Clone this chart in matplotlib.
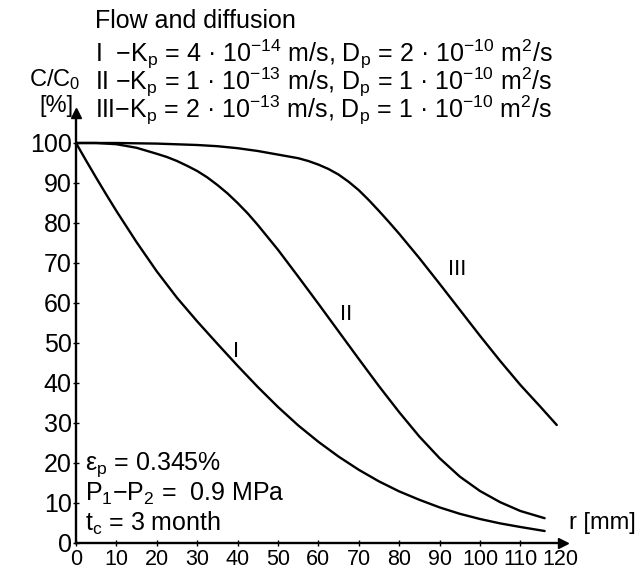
import matplotlib
matplotlib.use("Agg")
import matplotlib.pyplot as plt

plt.rcParams['font.family'] = ['Liberation Sans', 'DejaVu Sans']
plt.rcParams['mathtext.fontset'] = 'custom'
plt.rcParams['mathtext.rm'] = 'Liberation Sans'
plt.rcParams['mathtext.it'] = 'Liberation Sans'
plt.rcParams['mathtext.default'] = 'regular'

# Radial distance r [mm] and relative concentration C/C0 [%]
r_I = [0, 2.5, 5, 7.5, 10, 15, 20, 25, 30, 35, 40, 45, 50, 55, 60, 65, 70,
       75, 80, 85, 90, 95, 100, 105, 110, 116]
c_I = [100, 95.6, 91.3, 87.1, 83.0, 75.2, 67.9, 61.3, 55.4, 49.8, 44.3,
       39.0, 34.0, 29.4, 25.3, 21.6, 18.3, 15.4, 12.9, 10.8, 8.9, 7.3, 6.0,
       4.9, 4.0, 3.0]

r_II = [0, 5, 10, 15, 20, 22.5, 25, 27.5, 30, 32.5, 35, 37.5, 40, 42.5, 45,
        50, 55, 60, 65, 70, 75, 80, 85, 90, 95, 100, 105, 110, 116]
c_II = [100, 100, 99.7, 98.8, 97.3, 96.5, 95.5, 94.3, 93.0, 91.4, 89.5,
        87.4, 85.0, 82.4, 79.5, 73.3, 66.6, 59.8, 52.9, 46.0, 39.2, 32.7,
        26.6, 21.2, 16.6, 13.0, 10.2, 8.0, 6.2]

r_III = [0, 10, 20, 30, 35, 40, 45, 50, 55, 57.5, 60, 62.5, 65, 67.5, 70,
         72.5, 75, 77.5, 80, 85, 90, 95, 100, 105, 110, 115, 119]
c_III = [100, 100, 99.85, 99.5, 99.2, 98.7, 98.0, 97.1, 96.2, 95.5, 94.6,
         93.5, 92.1, 90.3, 88.2, 85.7, 83.0, 80.2, 77.3, 71.2, 64.8, 58.3,
         51.8, 45.5, 39.5, 34.0, 29.5]

x_ticks = [0, 10, 20, 30, 40, 50, 60, 70, 80, 90, 100, 110, 120]
y_ticks = [0, 10, 20, 30, 40, 50, 60, 70, 80, 90, 100]

legend_lines = [
    r"I  $-$K$_p$ = 4 · 10$^{-14}$ m/s, D$_p$ = 2 · 10$^{-10}$ m$^2$/s",
    r"II $-$K$_p$ = 1 · 10$^{-13}$ m/s, D$_p$ = 1 · 10$^{-10}$ m$^2$/s",
    r"III$-$K$_p$ = 2 · 10$^{-13}$ m/s, D$_p$ = 1 · 10$^{-10}$ m$^2$/s",
]
conditions = [
    r"$\epsilon_p$ = 0.345%",
    r"P$_1$$-$P$_2$ =  0.9 MPa",
    r"t$_c$ = 3 month",
]

W, H = 638, 570
fig = plt.figure(figsize=(W / 100, H / 100), dpi=100)

x0_px, y0_px = 76, 543
sx, sy = 4.04, 4.0
xmax, ymax = 120.6, 107.5
ax = fig.add_axes([x0_px / W, (H - y0_px) / H, xmax * sx / W, ymax * sy / H])
ax.set_xlim(0, xmax)
ax.set_ylim(0, ymax)

lw = 1.7
for r, c in [(r_I, c_I), (r_II, c_II), (r_III, c_III)]:
    ax.plot(r, c, color='black', lw=lw, solid_capstyle='round',
            solid_joinstyle='round')

for s in ['top', 'right']:
    ax.spines[s].set_visible(False)
for s in ['left', 'bottom']:
    ax.spines[s].set_linewidth(1.7)

# arrow heads at the ends of the axes
ax.plot(1, 0, '>', color='black', markersize=7, transform=ax.transAxes, clip_on=False)
ax.plot(0, 1, '^', color='black', markersize=7, transform=ax.transAxes, clip_on=False)

ax.set_xticks(x_ticks)
ax.set_yticks(y_ticks)
ax.set_xticklabels([str(v) for v in x_ticks])
ax.set_yticklabels([str(v) for v in y_ticks])
ax.tick_params(direction='inout', length=4, width=1.0, pad=1)
ax.tick_params(axis='y', labelsize=18)
ax.tick_params(axis='x', labelsize=15.5, pad=2)

# curve labels
ax.text(39.6, 47.8, "I", fontsize=16, ha='center', va='center')
ax.text(66.8, 57.2, "II", fontsize=16, ha='center', va='center')
ax.text(94.3, 68.4, "III", fontsize=16, ha='center', va='center')

# parameter block in the lower left
for i, t in enumerate(conditions):
    fig.text(85 / W, 1 - (465 + 29 * i) / H, t, fontsize=18,
             ha='left', va='center')

# axis titles
fig.text(636 / W, 1 - 523 / H, "r [mm]", fontsize=17, ha='right', va='center')
fig.text(55 / W, 1 - 80 / H, "C/C$_0$", fontsize=17, ha='center', va='center')
fig.text(56 / W, 1 - 106 / H, "[%]", fontsize=17, ha='center', va='center')

# heading and curve parameters
fig.text(95 / W, 1 - 21 / H, "Flow and diffusion", fontsize=18, ha='left', va='center')
for i, t in enumerate(legend_lines):
    fig.text(95 / W, 1 - (54 + 28 * i) / H, t, fontsize=18,
             ha='left', va='center')

fig.savefig("out.png", dpi=100)
